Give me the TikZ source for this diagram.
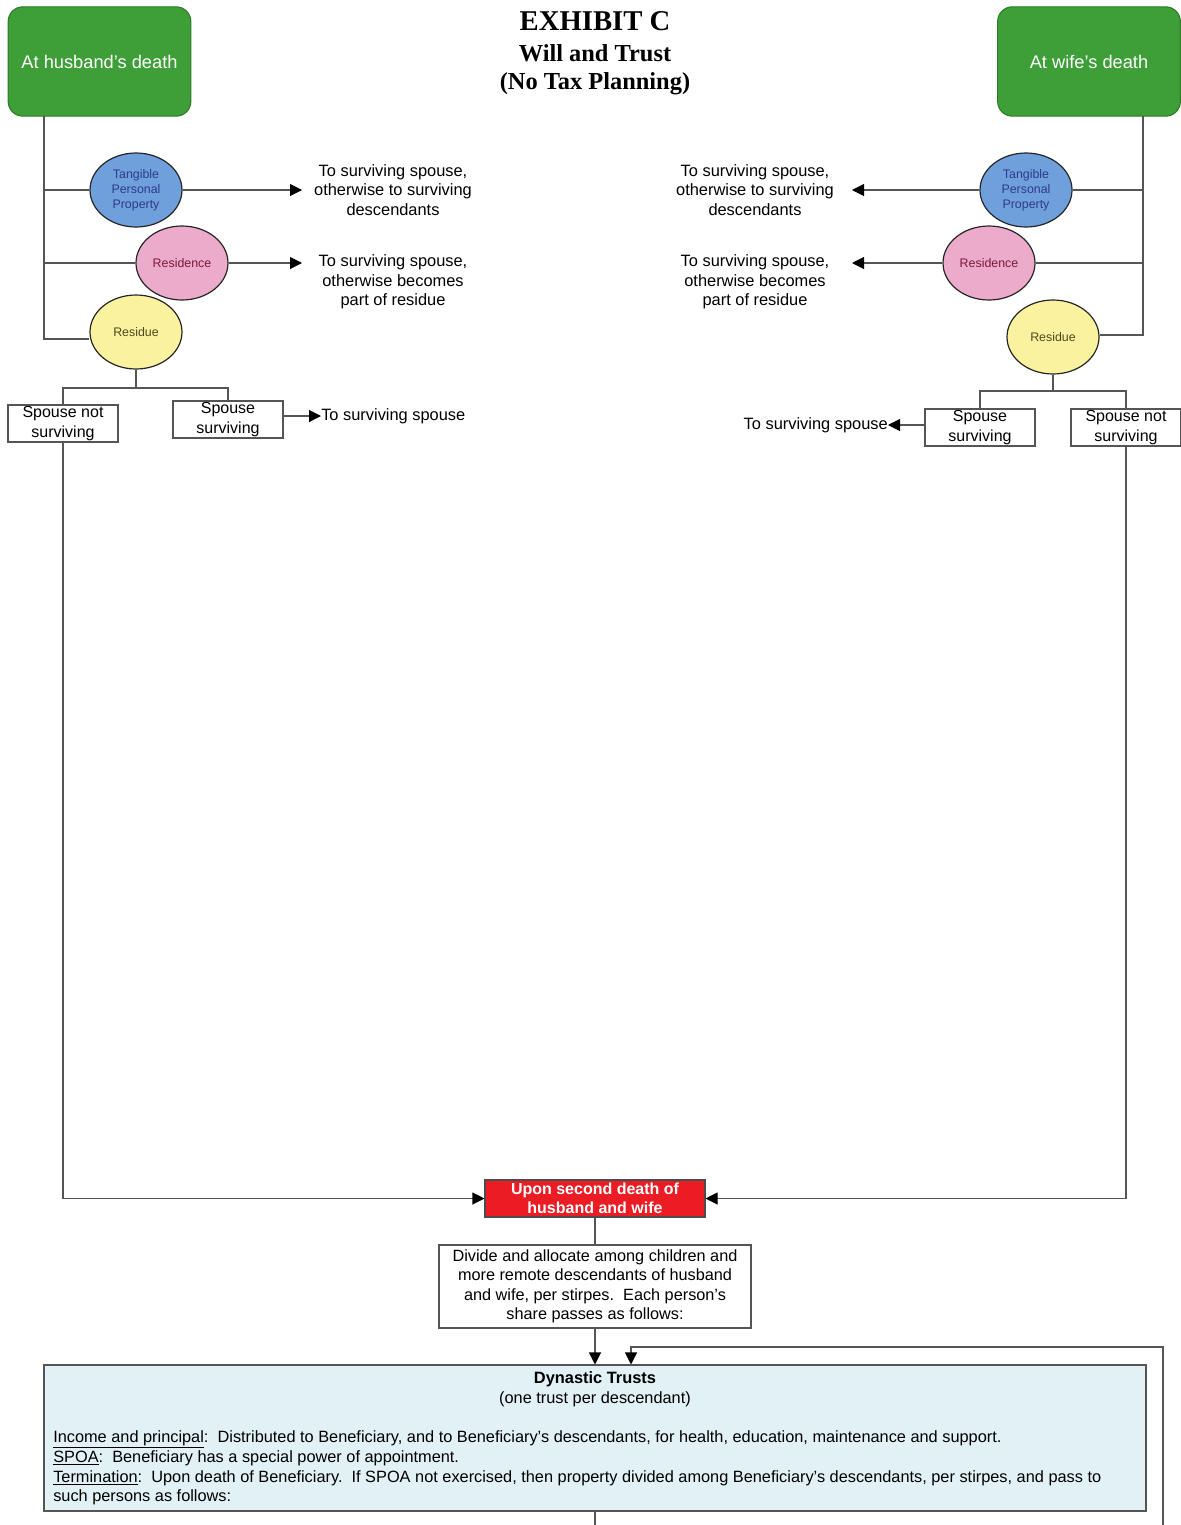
\documentclass[tikz,border=0pt]{standalone}
\usepackage{fontspec}
\setmainfont{Liberation Sans}
\newfontfamily\titlefont{Liberation Serif}
\usetikzlibrary{arrows.meta,shapes.geometric}
\definecolor{grn}{HTML}{3E9E37}
\definecolor{grnb}{HTML}{2E7A29}
\definecolor{tppblue}{HTML}{6FA0DC}
\definecolor{tpptxt}{HTML}{2E3A8C}
\definecolor{respink}{HTML}{EDABCB}
\definecolor{restxt}{HTML}{7A1A3A}
\definecolor{rsdyel}{HTML}{FAF29E}
\definecolor{rsdtxt}{HTML}{4A4A20}
\definecolor{redb}{HTML}{EC1C24}
\definecolor{dynfill}{HTML}{E2F1F6}
\definecolor{lncol}{HTML}{555555}
\tikzset{
  ln/.style={draw=lncol, line width=0.8pt},
  arr/.style={ln, -{Triangle[length=9pt,width=9pt,color=black]}},
  gbox/.style={draw=grnb, fill=grn, rounded corners=11pt, minimum width=137pt, minimum height=82pt, text=white, font=\fontsize{13.7}{16}\selectfont, line width=0.8pt},
  ell/.style={ellipse, draw=black!85, line width=0.9pt, minimum width=69pt, minimum height=55.5pt, inner sep=0pt, align=center, font=\fontsize{9.3}{11.2}\selectfont},
  side/.style={align=center, font=\fontsize{12.3}{14.6}\selectfont, inner sep=0pt},
  sbox/.style={draw=lncol, fill=white, line width=0.8pt, minimum width=82.5pt, minimum height=27.75pt, inner sep=0pt, align=center, font=\fontsize{12}{15}\selectfont},
  rbox/.style={draw=black!70, fill=redb, line width=0.8pt, minimum width=165pt, minimum height=27.75pt, inner sep=0pt, align=center, text=white, font=\bfseries\fontsize{12}{14.3}\selectfont},
  dvbox/.style={draw=lncol, fill=white, line width=0.8pt, minimum width=234pt, minimum height=62.25pt, inner sep=0pt, align=center, font=\fontsize{12.2}{14.6}\selectfont},
  dbox/.style={draw=lncol, fill=dynfill, line width=0.8pt, minimum width=826.5pt, minimum height=109.5pt, inner sep=0pt},
  dtxt/.style={inner sep=0pt, font=\fontsize{12.25}{14}\selectfont},
}
\begin{document}
\begin{tikzpicture}[x=0.75pt,y=-0.75pt]
\useasboundingbox (0,0) rectangle (1181,1525);

% Title
\node[font=\titlefont\bfseries\fontsize{21.5}{24}\selectfont] (t1) at (595,21) {EXHIBIT C};
\node[font=\titlefont\bfseries\fontsize{18.3}{21}\selectfont] (t2) at (595,53) {Will and Trust};
\node[font=\titlefont\bfseries\fontsize{18.3}{21}\selectfont] (t3) at (595,84) {(No Tax Planning)};

% Green boxes
\node[gbox] (hus) at (99.5,61.5) {At husband’s death};
\node[gbox] (wif) at (1089,61.5) {At wife’s death};

% Left ellipses
\node[ell, fill=tppblue, text=tpptxt] (tppL) at (136,190) {Tangible\\Personal\\Property};
\node[ell, fill=respink, text=restxt] (resL) at (182,263) {Residence};
\node[ell, fill=rsdyel, text=rsdtxt] (rsdL) at (136,332) {Residue};
% Right ellipses
\node[ell, fill=tppblue, text=tpptxt] (tppR) at (1026,190) {Tangible\\Personal\\Property};
\node[ell, fill=respink, text=restxt] (resR) at (989,263) {Residence};
\node[ell, fill=rsdyel, text=rsdtxt] (rsdR) at (1053,337) {Residue};

% Side texts
\node[side] (tL1) at (393,190) {To surviving spouse,\\otherwise to surviving\\descendants};
\node[side] (tL2) at (393,282) {To surviving spouse,\\otherwise becomes\\part of residue};
\node[side] (tR1) at (755,190) {To surviving spouse,\\otherwise to surviving\\descendants};
\node[side] (tR2) at (755,282) {To surviving spouse,\\otherwise becomes\\part of residue};

% Left spine
\coordinate (hsTop) at (44,116);
\coordinate (hsBot) at (44,339);
\draw[ln] (hsTop) -- (hsBot) -- (rsdL.west |- hsBot);
\draw[ln] (hsTop |- tppL.west) -- (tppL.west);
\draw[ln] (hsTop |- resL.west) -- (resL.west);
% Right spine
\coordinate (wsTop) at (1143,116);
\coordinate (wsBot) at (1143,335);
\draw[ln] (wsTop) -- (wsBot) -- (rsdR.east |- wsBot);
\draw[ln] (wsTop |- tppR.east) -- (tppR.east);
\draw[ln] (wsTop |- resR.east) -- (resR.east);

% Arrows to side texts
\coordinate (aL1) at (302,190);
\coordinate (aL2) at (302,263);
\coordinate (aR1) at (852,190);
\coordinate (aR2) at (852,263);
\draw[arr] (tppL.east) -- (aL1);
\draw[arr] (resL.east) -- (aL2);
\draw[arr] (tppR.west) -- (aR1);
\draw[arr] (resR.west) -- (aR2);

% Spouse boxes
\node[sbox] (snsL) at (63,423.5) {Spouse not\\surviving};
\node[sbox] (ssL) at (228,419.5) {Spouse\\surviving};
\node[sbox] (ssR) at (980,427.5) {Spouse\\surviving};
\node[sbox] (snsR) at (1126,427.5) {Spouse not\\surviving};

\coordinate (jL) at (136,388);
\coordinate (jR) at (1053,391);
\draw[ln] (rsdL.south) -- (jL);
\draw[ln] (jL) -| (snsL.north);
\draw[ln] (jL) -| (ssL.north);
\draw[ln] (rsdR.south) -- (jR);
\draw[ln] (jR) -| (ssR.north);
\draw[ln] (jR) -| (snsR.north);

\node[side, anchor=west] (tsL) at (321,416) {To surviving spouse};
\node[side, anchor=east] (tsR) at (888,425) {To surviving spouse};
\draw[arr] (ssL.east |- tsL.west) -- (tsL.west);
\draw[arr] (ssR.west |- tsR.east) -- (tsR.east);

% Second death
\node[rbox] (sec) at (595,1198.5) {Upon second death of\\husband and wife};
\draw[arr] (snsL.south) |- (sec.west);
\draw[arr] (snsR.south) |- (sec.east);

\node[dvbox] (div) at (595,1286.5) {Divide and allocate among children and\\more remote descendants of husband\\and wife, per stirpes.\ \ Each person’s\\share passes as follows:};
\draw[ln] (sec.south) -- (div.north);

% Dynastic trusts
\node[dbox] (dyn) at (595,1438) {};
\node[dtxt, font=\bfseries\fontsize{12.3}{14}\selectfont] (dynT) at (595,1379) {Dynastic Trusts};
\node[dtxt] (dynS) at (595,1399) {(one trust per descendant)};
\node[dtxt, anchor=base west] (dl1) at (53,1442) {\underline{Income and principal}:\ \ Distributed to Beneficiary, and to Beneficiary’s descendants, for health, education, maintenance and support.};
\node[dtxt, anchor=base west] (dl2) at (53,1462) {\underline{SPOA}:\ \ Beneficiary has a special power of appointment.};
\node[dtxt, anchor=base west] (dl3) at (53,1482) {\underline{Termination}:\ \ Upon death of Beneficiary.\ \ If SPOA not exercised, then property divided among Beneficiary’s descendants, per stirpes, and pass to};
\node[dtxt, anchor=base west] (dl4) at (53,1501) {such persons as follows:};

\draw[arr] (div.south) -- (dyn.north);
\coordinate (lpS) at (1163,1525);
\coordinate (lpC) at (1163,1347);
\coordinate (lpT) at (631,1347);
\draw[arr] (lpS) -- (lpC) -- (lpT) -- (dyn.north -| lpT);
\coordinate (bot) at (595,1525);
\draw[ln] (dyn.south) -- (bot);
\end{tikzpicture}
\end{document}
